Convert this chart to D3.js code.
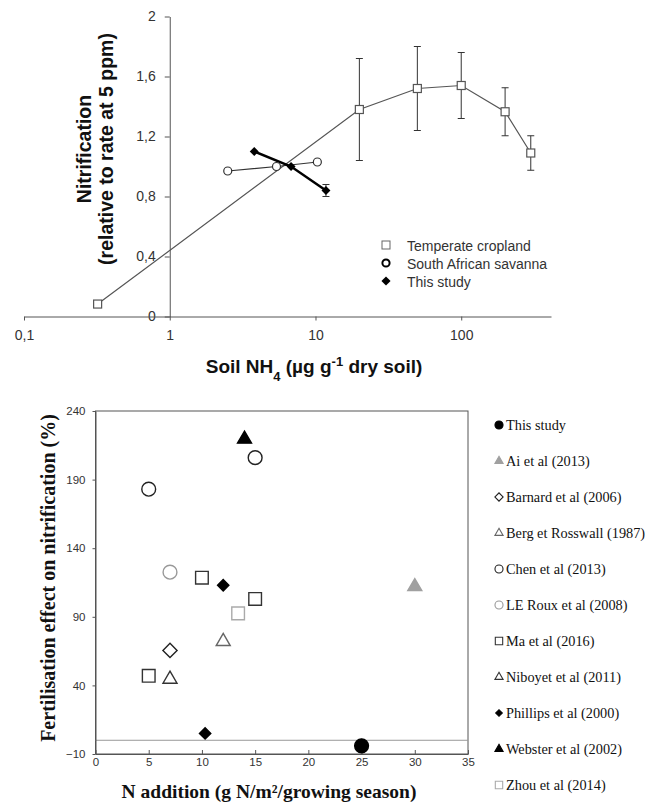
<!DOCTYPE html>
<html>
<head>
<meta charset="utf-8">
<script src="https://cdn.jsdelivr.net/npm/d3@7/dist/d3.min.js"></script>
<style>
  body { margin: 0; background: #fff; }
  .sans { font-family: "Liberation Sans", Arial, sans-serif; }
  .serif { font-family: "Liberation Serif", "Times New Roman", serif; }
</style>
</head>
<body>
<div id="chart"></div>
<script>
// ---- top panel data ----
var cropN = [0.32, 20, 50, 100, 200, 300];
var cropRate = [0.083, 1.38, 1.52, 1.54, 1.365, 1.09];
var cropErr = [0, 0.34, 0.28, 0.22, 0.16, 0.115];

var savN = [2.5, 5.4, 10.3];
var savRate = [0.97, 1.0, 1.03];

var studyN = [3.8, 6.8, 11.8];
var studyRate = [1.10, 1.0, 0.84];
var studyErr = [0, 0, 0.04];

var topYTicks = [0, 0.4, 0.8, 1.2, 1.6, 2];
var topXTicks = [0.1, 1, 10, 100];
var topXLabels = ["0,1", "1", "10", "100"];
var topLegend = ["Temperate cropland", "South African savanna", "This study"];

// ---- bottom panel data ----
var studies = ["This study", "Ai et al (2013)", "Barnard et al (2006)", "Berg et Rosswall (1987)",
  "Chen et al (2013)", "LE Roux et al (2008)", "Ma et al (2016)", "Niboyet et al (2011)",
  "Phillips et al (2000)", "Webster et al (2002)", "Zhou et al (2014)"];
var ptStudy = [0, 1, 2, 3, 4, 4, 5, 6, 6, 6, 7, 8, 8, 9, 10];
var ptN = [25, 30, 7, 12, 5, 15, 7, 5, 10, 15, 7, 12, 10.3, 14, 13.4];
var ptEffect = [-4, 112, 65.5, 72, 183, 206, 122.5, 47, 118.5, 103, 44.5, 113, 5, 219.5, 92.5];
var botYTicks = [-10, 40, 90, 140, 190, 240];
var botXTicks = [0, 5, 10, 15, 20, 25, 30, 35];

// marker look per study (shape, fill, stroke)
var studyStyle = [
  {shape: "circle", fill: "#000", stroke: "#000"},
  {shape: "triangle", fill: "#a0a0a0", stroke: "#a0a0a0"},
  {shape: "diamond", fill: "#fff", stroke: "#222"},
  {shape: "triangle", fill: "#fff", stroke: "#666"},
  {shape: "circle", fill: "#fff", stroke: "#222"},
  {shape: "circle", fill: "#fff", stroke: "#999"},
  {shape: "square", fill: "#fff", stroke: "#333"},
  {shape: "triangle", fill: "#fff", stroke: "#333"},
  {shape: "smalldiamond", fill: "#000", stroke: "#000"},
  {shape: "triangle", fill: "#000", stroke: "#000"},
  {shape: "square", fill: "#fff", stroke: "#aaa"}
];

var width = 648;
var height = 802;

var svg = d3.select("#chart").append("svg")
    .attr("width", width)
    .attr("height", height);

// ================= top panel =================
var xTop = d3.scaleLog().domain([0.1, 413]).range([24, 551]);
var yTop = d3.scaleLinear().domain([0, 2]).range([316.5, 16.5]);

var topG = svg.append("g").attr("class", "sans");

var yAxisTop = topG.append("g")
    .attr("transform", "translate(" + xTop(1) + ",0)")
    .call(d3.axisLeft(yTop).tickValues(topYTicks).tickSize(5).tickSizeOuter(0).tickPadding(9)
        .tickFormat(function (d) { return String(d).replace(".", ","); }));

var xAxisTop = topG.append("g")
    .attr("transform", "translate(0," + yTop(0) + ")")
    .call(d3.axisBottom(xTop).tickValues(topXTicks).tickSize(4).tickSizeOuter(0).tickPadding(10)
        .tickFormat(function (d, i) { return topXLabels[i]; }));

[yAxisTop, xAxisTop].forEach(function (ax) {
    ax.selectAll("path, line").attr("stroke", "#555");
    ax.selectAll("text").attr("fill", "#333").style("font-size", "14px")
        .style("font-family", "Liberation Sans, Arial, sans-serif");
});

var line = d3.line();

// cropland line + error bars
topG.append("path")
    .attr("d", line(cropN.map(function (n, i) { return [xTop(n), yTop(cropRate[i])]; })))
    .attr("fill", "none").attr("stroke", "#555").attr("stroke-width", 1.2);

function errorBars(xs, ys, es) {
    xs.forEach(function (n, i) {
        if (!es[i]) return;
        var cx = xTop(n);
        var y1 = yTop(ys[i] - es[i]);
        var y2 = yTop(ys[i] + es[i]);
        topG.append("line").attr("x1", cx).attr("x2", cx).attr("y1", y1).attr("y2", y2)
            .attr("stroke", "#333").attr("stroke-width", 1);
        [y1, y2].forEach(function (yy) {
            topG.append("line").attr("x1", cx - 3.5).attr("x2", cx + 3.5).attr("y1", yy).attr("y2", yy)
                .attr("stroke", "#333").attr("stroke-width", 1);
        });
    });
}
errorBars(cropN, cropRate, cropErr);

// savanna line
topG.append("path")
    .attr("d", line(savN.map(function (n, i) { return [xTop(n), yTop(savRate[i])]; })))
    .attr("fill", "none").attr("stroke", "#333").attr("stroke-width", 1.2);

// this study line
topG.append("path")
    .attr("d", line(studyN.map(function (n, i) { return [xTop(n), yTop(studyRate[i])]; })))
    .attr("fill", "none").attr("stroke", "#000").attr("stroke-width", 2.5);
errorBars(studyN, studyRate, studyErr);

topG.selectAll("rect.crop").data(cropN).enter().append("rect")
    .attr("class", "crop")
    .attr("x", function (d) { return xTop(d) - 4; })
    .attr("y", function (d, i) { return yTop(cropRate[i]) - 4; })
    .attr("width", 8).attr("height", 8)
    .attr("fill", "#fff").attr("stroke", "#555").attr("stroke-width", 1.2);

topG.selectAll("circle.sav").data(savN).enter().append("circle")
    .attr("class", "sav")
    .attr("cx", function (d) { return xTop(d); })
    .attr("cy", function (d, i) { return yTop(savRate[i]); })
    .attr("r", 4)
    .attr("fill", "#fff").attr("stroke", "#333").attr("stroke-width", 1.2);

var diamondTop = d3.symbol().type(d3.symbolSquare).size(40);
topG.selectAll("path.study").data(studyN).enter().append("path")
    .attr("class", "study")
    .attr("d", diamondTop)
    .attr("transform", function (d, i) {
        return "translate(" + xTop(d) + "," + yTop(studyRate[i]) + ") rotate(45)";
    })
    .attr("fill", "#000");

// top legend
var lg = topG.append("g");
var legY = [245, 263, 281];
lg.append("rect").attr("x", 382).attr("y", legY[0] - 4).attr("width", 8).attr("height", 8)
    .attr("fill", "#fff").attr("stroke", "#666").attr("stroke-width", 1);
lg.append("circle").attr("cx", 386).attr("cy", legY[1]).attr("r", 3.6)
    .attr("fill", "#fff").attr("stroke", "#000").attr("stroke-width", 2);
lg.append("path").attr("d", d3.symbol().type(d3.symbolSquare).size(42))
    .attr("transform", "translate(386," + legY[2] + ") rotate(45)").attr("fill", "#000");
lg.selectAll("text").data(topLegend).enter().append("text")
    .attr("x", 407).attr("y", function (d, i) { return legY[i] + 5.5; })
    .attr("fill", "#333").style("font-size", "14px").text(function (d) { return d; });

// top titles
var yt = topG.append("text")
    .attr("transform", "translate(91,149) rotate(-90)")
    .attr("text-anchor", "middle")
    .style("font-size", "19.5px").style("font-weight", "bold").attr("fill", "#111");
yt.append("tspan").attr("x", 0).attr("y", 0).text("Nitrification");
yt.append("tspan").attr("x", 0).attr("y", 22).text("(relative to rate at 5 ppm)");

var xt = topG.append("text")
    .attr("x", 314).attr("y", 373)
    .attr("text-anchor", "middle")
    .style("font-size", "19px").style("font-weight", "bold").attr("fill", "#111");
xt.append("tspan").text("Soil NH");
xt.append("tspan").attr("baseline-shift", "sub").style("font-size", "13px").text("4");
xt.append("tspan").text(" (µg g");
xt.append("tspan").attr("baseline-shift", "super").style("font-size", "13px").text("-1");
xt.append("tspan").text(" dry soil)");

// ================= bottom panel =================
var xBot = d3.scaleLinear().domain([0, 35]).range([95.5, 468]);
var yBot = d3.scaleLinear().domain([-10, 240]).range([754, 411]);

var bot = svg.append("g");

bot.append("rect")
    .attr("x", xBot(0)).attr("y", yBot(240))
    .attr("width", xBot(35) - xBot(0)).attr("height", yBot(-10) - yBot(240))
    .attr("fill", "none").attr("stroke", "#555").attr("stroke-width", 1);

bot.append("line")
    .attr("x1", xBot(0)).attr("x2", xBot(35)).attr("y1", yBot(0)).attr("y2", yBot(0))
    .attr("stroke", "#999").attr("stroke-width", 1);

var yAxisBot = bot.append("g")
    .attr("transform", "translate(" + xBot(0) + ",0)")
    .call(d3.axisLeft(yBot).tickValues(botYTicks).tickSize(3).tickSizeOuter(0).tickPadding(7));
var xAxisBot = bot.append("g")
    .attr("transform", "translate(0," + yBot(-10) + ")")
    .call(d3.axisBottom(xBot).tickValues(botXTicks).tickSize(-4).tickSizeOuter(0).tickPadding(4));

[yAxisBot, xAxisBot].forEach(function (ax) {
    ax.selectAll("path, line").attr("stroke", "#555");
    ax.selectAll("text").attr("fill", "#333").style("font-size", "11.5px")
        .style("font-family", "Liberation Sans, Arial, sans-serif");
});

function markerPath(shape, scale) {
    if (shape === "circle") return d3.symbol().type(d3.symbolCircle).size(150 * scale)();
    if (shape === "square") return d3.symbol().type(d3.symbolSquare).size(160 * scale)();
    if (shape === "triangle") return d3.symbol().type(d3.symbolTriangle).size(85 * scale)();
    if (shape === "diamond") return d3.symbol().type(d3.symbolSquare).size(100 * scale)();
    return d3.symbol().type(d3.symbolSquare).size(64 * scale)();
}
function rot(shape) {
    return (shape === "diamond" || shape === "smalldiamond") ? " rotate(45)" : "";
}

bot.selectAll("path.pt").data(ptStudy).enter().append("path")
    .attr("class", "pt")
    .attr("d", function (s) { return markerPath(studyStyle[s].shape, 1); })
    .attr("transform", function (s, i) {
        return "translate(" + xBot(ptN[i]) + "," + yBot(ptEffect[i]) + ")" + rot(studyStyle[s].shape);
    })
    .attr("fill", function (s) { return studyStyle[s].fill; })
    .attr("stroke", function (s) { return studyStyle[s].stroke; })
    .attr("stroke-width", 1.4);

// bottom legend
var bl = bot.append("g").attr("class", "serif");
studies.forEach(function (name, i) {
    var ly = 425 + i * 36;
    var st = studyStyle[i];
    bl.append("path")
        .attr("d", markerPath(st.shape, 0.34))
        .attr("transform", "translate(499," + ly + ")" + rot(st.shape))
        .attr("fill", st.fill).attr("stroke", st.stroke).attr("stroke-width", 1.1);
    bl.append("text")
        .attr("x", 506).attr("y", ly + 5)
        .attr("fill", "#111").style("font-size", "14.3px")
        .text(name);
});

// bottom titles
bot.append("text").attr("class", "serif")
    .attr("transform", "translate(55,578) rotate(-90)")
    .attr("text-anchor", "middle")
    .style("font-size", "20px").style("font-weight", "bold").attr("fill", "#111")
    .text("Fertilisation effect on nitrification (%)");

bot.append("text").attr("class", "serif")
    .attr("x", 269).attr("y", 798)
    .attr("text-anchor", "middle")
    .style("font-size", "19.5px").style("font-weight", "bold").attr("fill", "#111")
    .text("N addition (g N/m²/growing season)");
</script>
</body>
</html>
